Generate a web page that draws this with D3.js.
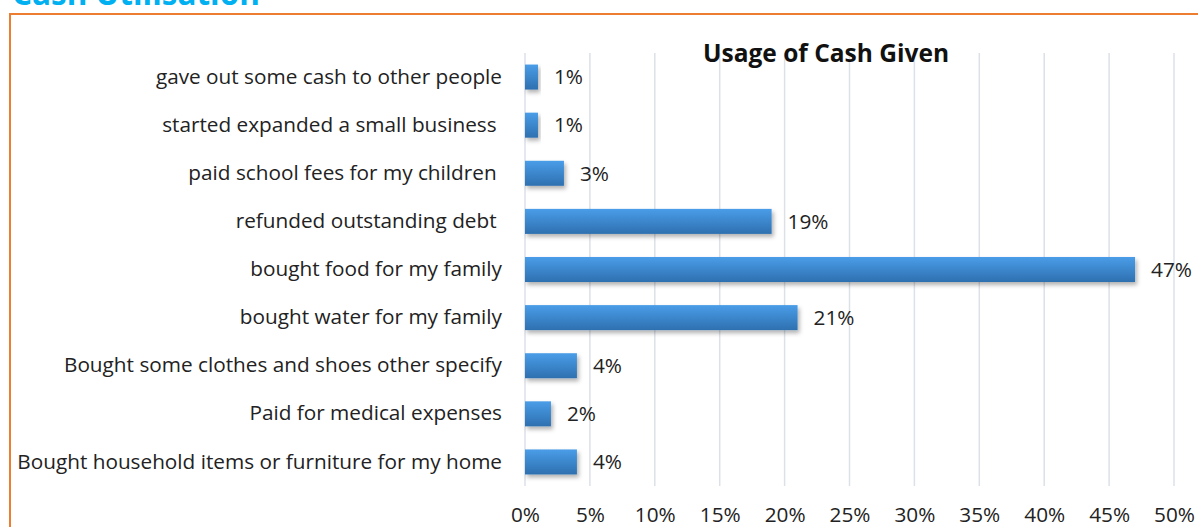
<!DOCTYPE html>
<html><head><meta charset="utf-8">
<script src="https://cdn.jsdelivr.net/npm/d3@7"></script>
<style>
body{margin:0;background:#fff;}
svg{display:block;font-family:"Open Sans",sans-serif;}
</style></head>
<body><svg id="c" width="1198" height="527"></svg>
<script>
const categories = [
  "gave out some cash to other people",
  "started expanded a small business ",
  "paid school fees for my children ",
  "refunded outstanding debt ",
  "bought food for my family",
  "bought water for my family",
  "Bought some clothes and shoes other specify",
  "Paid for medical expenses",
  "Bought household items or furniture for my home"
];
const values = [1, 1, 3, 19, 47, 21, 4, 2, 4];
const ticks = [0, 5, 10, 15, 20, 25, 30, 35, 40, 45, 50];
const chartTitle = "Usage of Cash Given";
const sectionTitle = "Cash Utilisation";

const svg = d3.select("#c");
const defs = svg.append("defs");
const g1 = defs.append("linearGradient").attr("id","bg").attr("x1",0).attr("y1",0).attr("x2",0).attr("y2",1);
g1.append("stop").attr("offset","0%").attr("stop-color","#4A9DE8");
g1.append("stop").attr("offset","100%").attr("stop-color","#2E70B0");
const f = defs.append("filter").attr("id","sh").attr("x","-10%").attr("y","-20%").attr("width","130%").attr("height","160%");
f.append("feDropShadow").attr("dx",2).attr("dy",3).attr("stdDeviation",2).attr("flood-color","#000").attr("flood-opacity",0.3);

function fit(sel, target, base){
  const w = sel.node().getComputedTextLength();
  sel.attr("font-size", base*target/w);
}

// section title (cut off as in the reference)
const st = svg.append("text").attr("x",12).attr("y",5).attr("font-size",30).attr("font-weight","bold")
  .attr("fill","#00B0F0").text(sectionTitle);
fit(st, 248, 30);

// orange frame
svg.append("path").attr("d","M10,1200 L10,14 L1200,14").attr("fill","none")
  .attr("stroke","#ED7D31").attr("stroke-width",2);

const x = d3.scaleLinear().domain([0,50]).range([525,1174]);
const y = d3.scaleBand().domain(categories).range([53,486]).paddingInner(0.48).paddingOuter(0.24);

// gridlines
svg.append("g").selectAll("line").data(ticks).join("line")
  .attr("x1",d=>x(d)).attr("x2",d=>x(d)).attr("y1",53).attr("y2",486)
  .attr("stroke","#DCE1E8").attr("stroke-width",1.5);

// y axis labels
const ya = svg.append("g").attr("transform","translate(502,0)")
  .call(d3.axisLeft(y).tickSize(0).tickPadding(0));
ya.select(".domain").remove();
ya.selectAll("text").attr("font-size",19).attr("font-family","'Open Sans', sans-serif").attr("fill","#222")
  .style("white-space","pre");
const longest = ya.selectAll("text").filter(d=>d===categories[8]);
const fs = 19*485/longest.node().getComputedTextLength();
ya.selectAll("text").attr("font-size",fs);

// x axis labels
const xa = svg.append("g").attr("transform","translate(0,515)")
  .call(d3.axisBottom(x).tickValues(ticks).tickFormat(d=>d+"%").tickSize(0).tickPadding(0));
xa.select(".domain").remove();
xa.selectAll("text").attr("font-size",fs).attr("font-family","'Open Sans', sans-serif").attr("fill","#222").attr("dy","0.35em").attr("y",0);

// bars
svg.append("g").selectAll("rect").data(values).join("rect")
  .attr("x",x(0)).attr("y",(d,i)=>y(categories[i]))
  .attr("width",d=>x(d)-x(0)).attr("height",y.bandwidth())
  .attr("fill","url(#bg)").attr("filter","url(#sh)");

// value labels
svg.append("g").selectAll("text").data(values).join("text")
  .attr("x",d=>x(d)+16).attr("y",(d,i)=>y(categories[i])+y.bandwidth()/2)
  .attr("dy","0.35em").attr("font-size",fs).attr("fill","#222").text(d=>d+"%");

// chart title
const ct = svg.append("text").attr("x",826).attr("y",53).attr("dy","0.35em").attr("text-anchor","middle")
  .attr("font-size",23).attr("font-weight","bold").attr("fill","#111").text(chartTitle);
fit(ct, 246, 23);
</script></body></html>
